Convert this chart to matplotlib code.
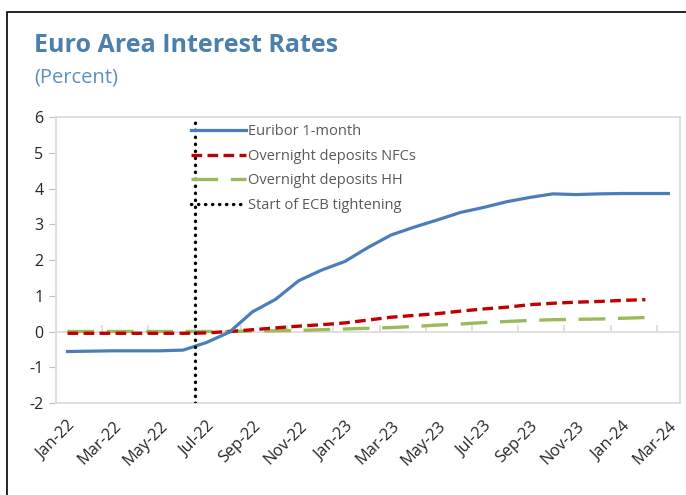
import matplotlib
matplotlib.use("Agg")
import matplotlib.pyplot as plt
from matplotlib.patches import Rectangle
import numpy as np

plt.rcParams['font.family'] = ['Open Sans', 'DejaVu Sans']

months = ["Jan-22", "Feb-22", "Mar-22", "Apr-22", "May-22", "Jun-22", "Jul-22", "Aug-22", "Sep-22",
          "Oct-22", "Nov-22", "Dec-22", "Jan-23", "Feb-23", "Mar-23", "Apr-23", "May-23", "Jun-23",
          "Jul-23", "Aug-23", "Sep-23", "Oct-23", "Nov-23", "Dec-23", "Jan-24", "Feb-24", "Mar-24"]

euribor = [-0.56, -0.55, -0.54, -0.54, -0.54, -0.52, -0.31, -0.02, 0.55, 0.90, 1.42, 1.72,
           1.96, 2.35, 2.70, 2.92, 3.12, 3.33, 3.47, 3.63, 3.75, 3.85, 3.83, 3.85, 3.86, 3.86, 3.86]
nfc = [-0.05, -0.05, -0.05, -0.05, -0.05, -0.05, -0.04, 0.00, 0.05, 0.10, 0.15, 0.19,
       0.24, 0.32, 0.40, 0.45, 0.50, 0.57, 0.63, 0.68, 0.75, 0.79, 0.82, 0.84, 0.87, 0.89]
hh = [0.00, 0.00, 0.00, 0.00, 0.00, 0.00, 0.00, 0.00, 0.01, 0.02, 0.03, 0.05,
      0.07, 0.09, 0.11, 0.14, 0.18, 0.21, 0.25, 0.28, 0.31, 0.33, 0.34, 0.35, 0.37, 0.39]
tightening_start = 5.5  # boundary between Jun-22 and Jul-22
yticks = [-2, -1, 0, 1, 2, 3, 4, 5, 6]

fig = plt.figure(figsize=(6.86, 4.95), dpi=100)
ax = fig.add_axes([56/686, 1-403/495, (680-56)/686, (403-117)/495])

# outer frame (top and left visible)
fig.patches.append(Rectangle((7/686, -0.1), 1.2, 1 - 12/495 + 0.1, transform=fig.transFigure,
                             fill=False, edgecolor='black', linewidth=1.2, zorder=0))

x = np.arange(len(months))
ax.plot(x, euribor, color='#4A7EBB', lw=2.3, label='Euribor 1-month', zorder=4)
ax.plot(x[:len(nfc)], nfc, color='#C00000', lw=2.4, dashes=(3.2, 1.6), label='Overnight deposits NFCs', zorder=3)
ax.plot(x[:len(hh)], hh, color='#9BBB59', lw=2.4, dashes=(8, 3.8), label='Overnight deposits HH', zorder=2)
ax.plot([tightening_start, tightening_start], [yticks[0], yticks[-1]], color='black', lw=2.4,
        linestyle=(0, (0.1, 2.0)), dash_capstyle='round', solid_capstyle='round',
        label='Start of ECB tightening', zorder=5)

ax.set_xlim(-0.5, len(months) - 0.5)
ax.set_ylim(yticks[0], yticks[-1])
ax.set_yticks(yticks)
ax.set_yticklabels([str(v) for v in yticks], fontsize=11.5, color='#262626')
ax.tick_params(axis='y', length=5, color='#BFBFBF', pad=4)

ax.set_xticks(x[::2])
ax.set_xticklabels(months[::2], rotation=45, ha='right', va='top', rotation_mode='anchor',
                   fontsize=11.8, color='#262626')
ax.tick_params(axis='x', length=0, pad=11)

for s in ax.spines.values():
    s.set_color('#D9D9D9')
    s.set_linewidth(1.2)

ax.axhline(0, color='#D9D9D9', lw=1.2, zorder=1)
ax.vlines(np.arange(1.5, len(months) - 1, 2), 0, 0.17, color='#D9D9D9', lw=1.2, zorder=1)

leg = ax.legend(loc='upper left', bbox_to_anchor=(191/686, 1 - 124/495), bbox_transform=fig.transFigure,
                frameon=False, fontsize=10.5, handlelength=3.75, handletextpad=0.15, labelspacing=0.66,
                borderaxespad=0, borderpad=0)
for t in leg.get_texts():
    t.set_color('#595959')

fig.text(34/686, 1 - 46/495, 'Euro Area Interest Rates', fontsize=18, fontweight='bold',
         color='#4A7FAE', va='center', ha='left')
fig.text(34/686, 1 - 77/495, '(Percent)', fontsize=14.5, color='#5B8FBF', va='center', ha='left')

fig.savefig('out.png', dpi=100)
